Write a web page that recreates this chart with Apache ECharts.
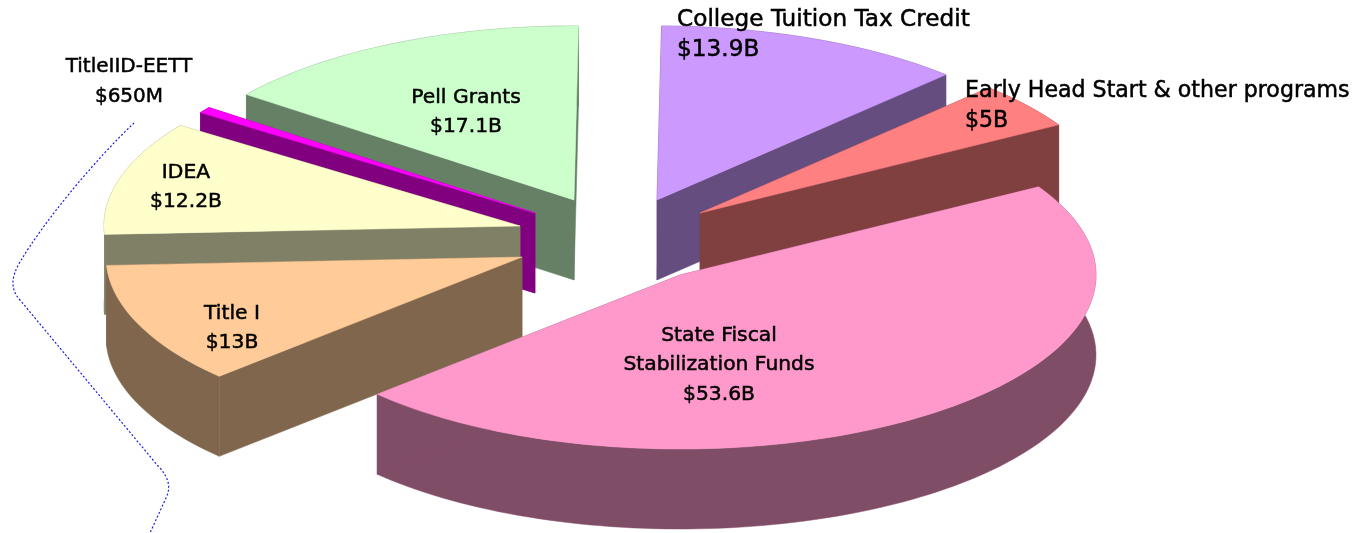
<!DOCTYPE html>
<html>
<head>
<meta charset="utf-8">
<style>html,body{margin:0;padding:0;background:#fff}#c{width:1371px;height:533px}</style>
<script src="https://cdn.jsdelivr.net/npm/echarts@6/dist/echarts.min.js"></script>
</head>
<body>
<div id="c"></div>
<script>
// data (pie order, counter-clockwise)
const categories = ['State Fiscal Stabilization Funds','Early Head Start & other programs','College Tuition Tax Credit','Pell Grants','TitleIID-EETT','IDEA','Title I'];
const values = [53.6, 5, 13.9, 17.1, 0.65, 12.2, 13];
const valueLabels = ['$53.6B','$5B','$13.9B','$17.1B','$650M','$12.2B','$13B'];
const topColors = ['#FF99CC','#FF8080','#CC99FF','#CCFFCC','#FF00FF','#FFFFCC','#FFCC99'];
const sideColors = ['#804D66','#804040','#664D80','#668066','#800080','#808066','#80664D'];
// layout: exploded position of each slice's tip, perspective radius scale, paint rank, projection
const tips = [[680,275],[700,213],[657,200],[574,200],[535,213],[520,226],[522,257]];
const radiusScale = [1,1,1,0.99,0.985,1,1];
const paintRank = [6,1,0,2,3,4,5];
const RX = 416, RY = 174, DEPTH = 80, START = -136.7;
const total = values.reduce((a,b)=>a+b,0);
const FONT = '"DejaVu Sans"';
const labelLayout = [
  {t:'State Fiscal\nStabilization Funds\n$53.6B',x:719,y:365,a:'center',s:20.3},
  {t:'Early Head Start & other programs\n$5B',x:965,y:106,a:'left',s:22.1},
  {t:'College Tuition Tax Credit\n$13.9B',x:677,y:35,a:'left',s:23.2},
  {t:'Pell Grants\n$17.1B',x:466,y:112,a:'center',s:20.3},
  {t:'TitleIID-EETT\n$650M',x:129,y:82,a:'center',s:20},
  {t:'IDEA\n$12.2B',x:186,y:187,a:'center',s:20.3},
  {t:'Title I\n$13B',x:232,y:328,a:'center',s:20.3}
];
function pt(i,deg,dy){
  const r = deg*Math.PI/180, tip = tips[i], q = radiusScale[i];
  return [tip[0]+q*RX*Math.cos(r), tip[1]-RY*Math.sin(r)+(dy||0)];
}
function renderSlice(params, api){
  const i = params.dataIndex;
  let a0 = START;
  for(let k=0;k<i;k++) a0 += values[k]/total*360;
  const a1 = a0 + api.value(1)/total*360;
  const tip = tips[i];
  const arc = [];
  const n = Math.max(2,Math.ceil((a1-a0)/1.5));
  for(let k=0;k<=n;k++) arc.push(a0+(a1-a0)*k/n);
  const top = [tip].concat(arc.map(a=>pt(i,a)));
  const outer = arc.map(a=>pt(i,a)).concat(arc.slice().reverse().map(a=>pt(i,a,DEPTH)));
  const tb = [tip[0],tip[1]+DEPTH];
  const side = {fill:sideColors[i],stroke:sideColors[i],lineWidth:0.5};
  const z = paintRank[i]*10;
  const poly=(points,style,zz)=>({type:'polygon',shape:{points},style,z2:z+zz,silent:true});
  return {type:'group',children:[
    poly(outer,side,0),
    poly([tip,pt(i,a0),pt(i,a0,DEPTH),tb],side,1),
    poly([tip,pt(i,a1),pt(i,a1,DEPTH),tb],side,1),
    poly(top,{fill:topColors[i],stroke:topColors[i],lineWidth:0.5},2)
  ]};
}
const chart = echarts.init(document.getElementById('c'),null,{renderer:'canvas'});
chart.setOption({
  animation:false,
  backgroundColor:'#fff',
  series:[
    {type:'custom',coordinateSystem:'none',silent:true,
     data:values.map((v,i)=>({name:categories[i],value:[i,v]})),
     renderItem:renderSlice},
    {type:'custom',coordinateSystem:'none',silent:true,z:3,data:[[0]],
     renderItem:()=>({type:'path',silent:true,
       shape:{pathData:'M134 123 C 95 160 45 220 20 262 Q 6 285 20 300 L 158 466 Q 174 482 166 498 L 150 533'},
       style:{fill:null,stroke:'#1a1ae6',lineWidth:1.2,lineDash:[2,2]}})}
  ],
  graphic:labelLayout.map(l=>({type:'text',x:l.x,y:l.y,silent:true,z:10,
    style:{text:l.t,fill:'#000',stroke:'#000',lineWidth:0.5,font:'500 '+l.s+'px '+FONT,align:l.a,verticalAlign:'middle',lineHeight:29.5}}))
});
</script>
</body>
</html>
